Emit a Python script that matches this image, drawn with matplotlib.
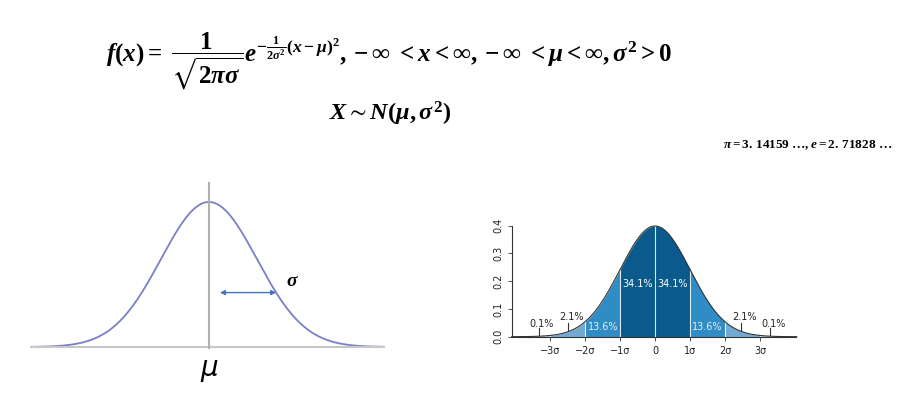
import numpy as np
import matplotlib
matplotlib.use("Agg")
import matplotlib.pyplot as plt

# math text in a bold serif, like the Cambria Math formula in the slide
plt.rcParams['mathtext.fontset'] = 'custom'
plt.rcParams['mathtext.rm'] = 'Liberation Serif:bold'
plt.rcParams['mathtext.it'] = 'Liberation Serif:italic:bold'
plt.rcParams['mathtext.bf'] = 'Liberation Serif:bold'
plt.rcParams['mathtext.fallback'] = 'stix'

# distribution parameters
mu = 0.0
sigma = 1.0

# band boundaries (in sigma) and their percentages for the right diagram
band_edges = [-4, -3, -2, -1, 0, 1, 2, 3, 4]
band_colors = ['#a9cde6', '#72aad4', '#2f8cc4', '#0a5a8c', '#0a5a8c', '#2f8cc4', '#72aad4', '#a9cde6']
pct_inner = ['34.1%', '34.1%']
pct_mid = ['13.6%', '13.6%']
pct_outer = ['2.1%', '2.1%']
pct_tail = ['0.1%', '0.1%']
x_tick_pos = [-3, -2, -1, 0, 1, 2, 3]
x_tick_labels = ['\u22123\u03c3', '\u22122\u03c3', '\u22121\u03c3', '0', '1\u03c3', '2\u03c3', '3\u03c3']
y_tick_pos = [0.0, 0.1, 0.2, 0.3, 0.4]


def pdf(x):
    return np.exp(-0.5 * ((x - mu) / sigma) ** 2) / (np.sqrt(2 * np.pi) * sigma)


fig = plt.figure(figsize=(9.1, 4), dpi=100)

# ---- formulas ----
fig.text(106 / 910, 1 - 61 / 400,
         r'$f(x) =\ \dfrac{1}{\sqrt{2\pi\sigma}}e^{-\frac{1}{2\sigma^2}(x-\mu)^2}, -\infty\ < x < \infty, -\infty\ < \mu < \infty, \sigma^2 > 0$',
         fontsize=18, ha='left', va='center')
fig.text(390 / 910, 1 - 114 / 400, r'$X \sim N(\mu, \sigma^2)$',
         fontsize=17.5, ha='center', va='center')
fig.text(892 / 910, 1 - 145 / 400, r'$\pi = 3.\,14159\ \ldots, e = 2.\,71828\ \ldots$',
         fontsize=9.5, ha='right', va='center')

# ---- left: generic bell curve ----
ax1 = fig.add_axes([30 / 910, 40 / 400, 355 / 910, 185 / 400])
x = np.linspace(-3.73, 3.67, 400)
ax1.plot(x, pdf(x), color='#7b7fc4', lw=1.3)
ax1.axhline(0, color='#c8c8c8', lw=1.5)
ax1.plot([mu, mu], [-0.003, 0.451], color='#b0b0b0', lw=1.5)
ax1.annotate('', xy=(1.40, pdf(1.40)), xytext=(0.23, pdf(1.40)),
             arrowprops=dict(arrowstyle='<|-|>', color='#4472c4', lw=1,
                             mutation_scale=7, shrinkA=0, shrinkB=0))
ax1.text(1.75, 0.182, r'$\sigma$', fontsize=14, ha='center', va='center')
ax1.text(mu, -0.063, r'$\mu$', fontsize=20, ha='center', va='center',
         family='DejaVu Sans', clip_on=False,
         math_fontfamily='dejavusans')
ax1.set_xlim(-3.73, 3.67)
ax1.set_ylim(-0.0358, 0.4732)
ax1.axis('off')

# ---- right: standard normal with sigma bands ----
ax2 = fig.add_axes([512 / 910, (400 - 336.7) / 400, 284 / 910, 111 / 400])
for i in range(len(band_edges) - 1):
    xs = np.linspace(band_edges[i], band_edges[i + 1], 100)
    ax2.fill_between(xs, 0, pdf(xs), color=band_colors[i], lw=0)
for b in band_edges[1:-1]:
    ax2.plot([b, b], [0, pdf(b)], color='white', lw=0.8, alpha=0.8)
xx = np.linspace(-4.1, 4.05, 400)
ax2.plot(xx, pdf(xx), color='#333333', lw=0.8, clip_on=False)

lab_kw = dict(fontsize=7, ha='center', va='center')
ax2.text(-0.5, 0.19, pct_inner[0], color='white', **lab_kw)
ax2.text(0.5, 0.19, pct_inner[1], color='white', **lab_kw)
ax2.text(-1.49, 0.036, pct_mid[0], color='#e4eef6', **lab_kw)
ax2.text(1.49, 0.036, pct_mid[1], color='#e4eef6', **lab_kw)
ax2.text(-2.38, 0.07, pct_outer[0], color='#222222', **lab_kw)
ax2.text(2.55, 0.07, pct_outer[1], color='#222222', **lab_kw)
ax2.text(-3.24, 0.046, pct_tail[0], color='#222222', **lab_kw)
ax2.text(3.38, 0.046, pct_tail[1], color='#222222', **lab_kw)
# pointer marks for the small areas
for px, y0, y1 in [(-2.49, 0.024, 0.048), (2.46, 0.024, 0.048),
                   (-3.33, 0.005, 0.03), (3.30, 0.005, 0.03)]:
    ax2.plot([px, px], [y0, y1], color='#333333', lw=0.8)

ax2.set_xlim(-4.09, 4.03)
ax2.set_ylim(0, 0.4)
ax2.spines['top'].set_visible(False)
ax2.spines['right'].set_visible(False)
for s in ['left', 'bottom']:
    ax2.spines[s].set_color('#333333')
    ax2.spines[s].set_linewidth(0.8)
ax2.set_xticks(x_tick_pos)
ax2.set_xticklabels(x_tick_labels, fontsize=7, color='#222222')
ax2.tick_params(axis='x', length=3, width=0.6, color='#333333', pad=4)
ax2.set_yticks(y_tick_pos)
ax2.set_yticklabels([f'{v:.1f}' for v in y_tick_pos], fontsize=7,
                    color='#222222', rotation=90, va='center')
ax2.tick_params(axis='y', length=3, width=0.6, color='#333333', pad=3)

fig.savefig('out.png', dpi=100)
